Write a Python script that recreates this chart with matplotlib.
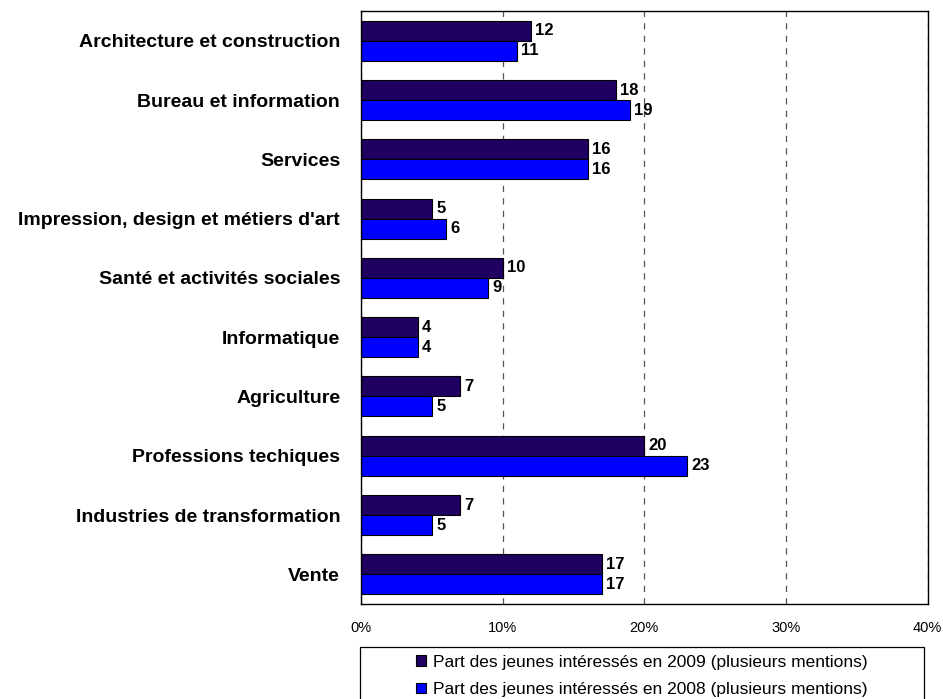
import numpy as np
import matplotlib.pyplot as plt
from matplotlib.patches import Rectangle

plt.rcParams['font.family'] = ['Liberation Sans', 'DejaVu Sans']

categories = ['Architecture et construction', 'Bureau et information', 'Services',
              "Impression, design et métiers d'art", 'Santé et activités sociales',
              'Informatique', 'Agriculture', 'Professions techiques',
              'Industries de transformation', 'Vente']
vals_2009 = [12, 18, 16, 5, 10, 4, 7, 20, 7, 17]
vals_2008 = [11, 19, 16, 6, 9, 4, 5, 23, 5, 17]
label_2009 = 'Part des jeunes intéressés en 2009 (plusieurs mentions)'
label_2008 = 'Part des jeunes intéressés en 2008 (plusieurs mentions)'
ticks = [0, 10, 20, 30, 40]

fig = plt.figure(figsize=(9.43, 6.99), dpi=100)
ax = fig.add_axes([0.3828, 0.136, 0.601, 0.848])

y = np.arange(len(categories))
h = 0.337
b1 = ax.barh(y - h / 2, vals_2009, height=h, color='#200060', edgecolor='black', linewidth=0.8,
             label=label_2009)
b2 = ax.barh(y + h / 2, vals_2008, height=h, color='#0000FF', edgecolor='black', linewidth=0.8,
             label=label_2008)

# value labels to the right of each bar
for bars, vals in [(b1, vals_2009), (b2, vals_2008)]:
    for bar, v in zip(bars, vals):
        ax.text(v + 0.3, bar.get_y() + bar.get_height() / 2, str(v), va='center', ha='left',
                fontsize=12, fontweight='bold')

ax.set_ylim(len(categories) - 0.5, -0.5)
ax.set_yticks(y)
ax.set_yticklabels(categories, fontsize=14, fontweight='bold')
ax.set_xlim(0, 40)
ax.set_xticks(ticks)
ax.set_xticklabels([f'{t}%' for t in ticks], fontsize=10.5)
ax.tick_params(axis='y', length=0, pad=15)
ax.tick_params(axis='x', length=0, pad=12)
ax.grid(axis='x', linestyle=(0, (5, 5)), color='#555555', linewidth=0.9)
ax.set_axisbelow(True)
for s in ax.spines.values():
    s.set_color('black')
    s.set_linewidth(1)

# legend box below the plot
fig.patches.append(Rectangle((360 / 943, -0.05), 564 / 943, 0.05 + 1 - 647 / 699,
                             transform=fig.transFigure, facecolor='white',
                             edgecolor='black', linewidth=0.9))
leg = fig.legend(loc='upper center', bbox_to_anchor=(642 / 943, 1 - 646 / 699),
                 fontsize=12.5, frameon=False, handlelength=0.55, handleheight=0.55,
                 handletextpad=0.45, borderpad=0, labelspacing=0.72)

fig.savefig('out.png', dpi=100)
